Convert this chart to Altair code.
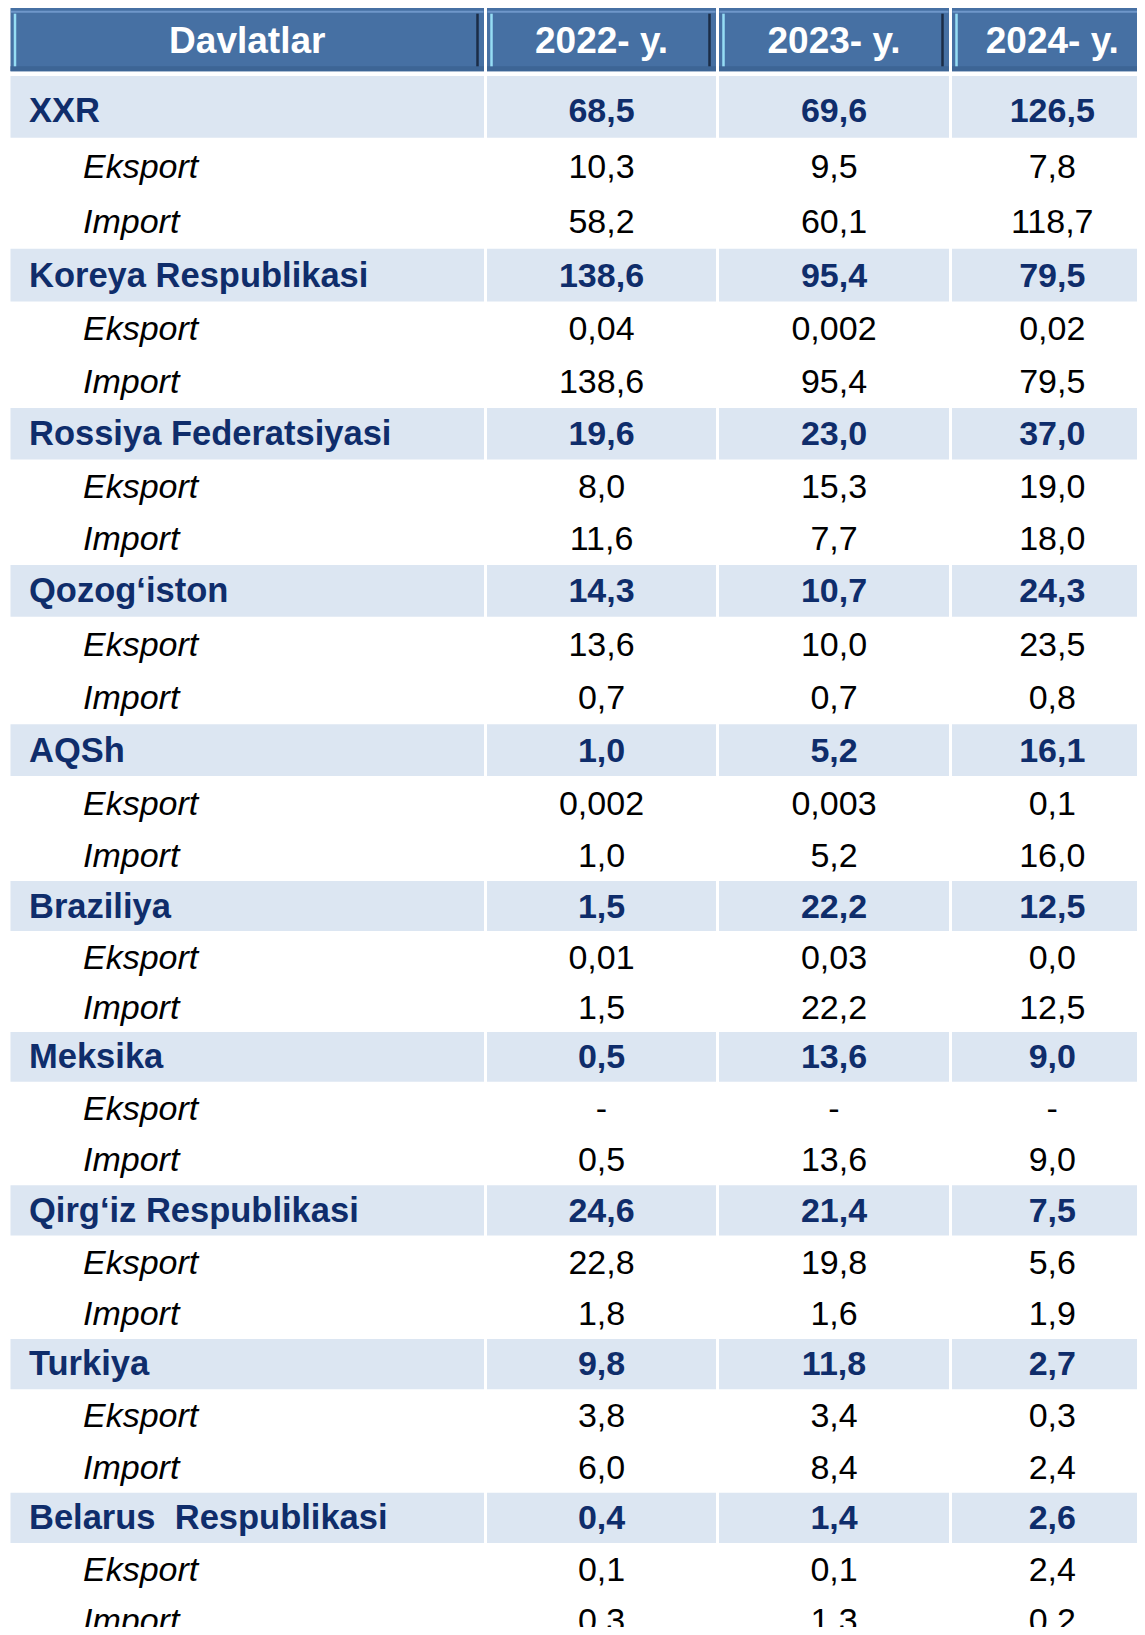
import altair as alt
import pandas as pd

# ---------------- data ----------------
header_label = "Davlatlar"
years = ["2022- y.", "2023- y.", "2024- y."]
countries = [
    "XXR",
    "Koreya Respublikasi",
    "Rossiya Federatsiyasi",
    "Qozog\u2018iston",
    "AQSh",
    "Braziliya",
    "Meksika",
    "Qirg\u2018iz Respublikasi",
    "Turkiya",
    "Belarus\u00a0 Respublikasi",
]
sub_labels = ["Eksport", "Import"]

total_2022 = ["68,5", "138,6", "19,6", "14,3", "1,0", "1,5", "0,5", "24,6", "9,8", "0,4"]
total_2023 = ["69,6", "95,4", "23,0", "10,7", "5,2", "22,2", "13,6", "21,4", "11,8", "1,4"]
total_2024 = ["126,5", "79,5", "37,0", "24,3", "16,1", "12,5", "9,0", "7,5", "2,7", "2,6"]

export_2022 = ["10,3", "0,04", "8,0", "13,6", "0,002", "0,01", "-", "22,8", "3,8", "0,1"]
export_2023 = ["9,5", "0,002", "15,3", "10,0", "0,003", "0,03", "-", "19,8", "3,4", "0,1"]
export_2024 = ["7,8", "0,02", "19,0", "23,5", "0,1", "0,0", "-", "5,6", "0,3", "2,4"]

import_2022 = ["58,2", "138,6", "11,6", "0,7", "1,0", "1,5", "0,5", "1,8", "6,0", "0,3"]
import_2023 = ["60,1", "95,4", "7,7", "0,7", "5,2", "22,2", "13,6", "1,6", "8,4", "1,3"]
import_2024 = ["118,7", "79,5", "18,0", "0,8", "16,0", "12,5", "9,0", "1,9", "2,4", "0,2"]

totals = [total_2022, total_2023, total_2024]
exports = [export_2022, export_2023, export_2024]
imports = [import_2022, import_2023, import_2024]

# ---------------- tables ----------------
header_df = pd.DataFrame({
    "col": [0, 1, 2, 3],
    "text": [header_label] + years,
})
header_df["row"] = -1

country_names, country_vals, sub_names, sub_vals, bands = [], [], [], [], []
for k, c in enumerate(countries):
    r = 3 * k
    country_names.append({"row": r, "col": 0, "text": c})
    for j in range(3):
        country_vals.append({"row": r, "col": j + 1, "text": totals[j][k]})
    for c4 in range(4):
        bands.append({"row": r, "col": c4})
    for s, (lab, arrs) in enumerate(zip(sub_labels, [exports, imports])):
        sub_names.append({"row": r + 1 + s, "col": 0, "text": lab})
        for j in range(3):
            sub_vals.append({"row": r + 1 + s, "col": j + 1, "text": arrs[j][k]})

country_names = pd.DataFrame(country_names)
country_vals = pd.DataFrame(country_vals)
sub_names = pd.DataFrame(sub_names)
sub_vals = pd.DataFrame(sub_vals)
bands = pd.DataFrame(bands)

# ---------------- scales ----------------
W, H = 1129, 1619
xscale = alt.Scale(domain=[0, 1, 2, 3, 4], range=[1, 477.5, 709.5, 942.5, 1146],
                   nice=False, zero=False)
yscale = alt.Scale(domain=[-1, 0, 3, 6, 9, 12, 15, 18, 21, 24, 27, 30],
                   range=[31.5, 103, 267.5, 426, 582.5, 742.5, 898.5, 1048.5,
                          1202.5, 1356, 1510, 1663],
                   nice=False, zero=False)

FONT = "Liberation Sans"
HEAD_BLUE = "#4670A3"
BAND = "#DCE6F2"
NAVY = "#0F2D6B"


def X(field):
    return alt.X(field, type="quantitative", scale=xscale, axis=None)


def Y(field):
    return alt.Y(field, type="quantitative", scale=yscale, axis=None)


# header cells
head_base = alt.Chart(header_df).transform_calculate(
    x1="datum.col", x2="datum.col + 1", xc="datum.col + 0.5",
    y1="datum.row - 0.445", y2="datum.row + 0.445",
)

head_rect = head_base.mark_rect(color=HEAD_BLUE, xOffset=1.5, x2Offset=-1.5, clip=True).encode(
    x=X("x1"), x2="x2", y=Y("y1"), y2="y2"
)
head_bottom = head_base.mark_rect(color="#3D6595", xOffset=1.5, x2Offset=-1.5,
                                  yOffset=-5, clip=True).encode(
    x=X("x1"), x2="x2", y=Y("y2"), y2="y2"
)
head_top = head_base.mark_rule(color="#6F97CA", strokeWidth=2, xOffset=2, x2Offset=-2,
                               yOffset=4, y2Offset=4, clip=True).encode(
    x=X("x1"), x2="x2", y=Y("y1")
)
head_left = head_base.mark_rule(color="#96DDF4", strokeWidth=2.5, xOffset=6, x2Offset=6,
                                yOffset=6, y2Offset=-5, clip=True).encode(
    x=X("x1"), y=Y("y1"), y2="y2"
)
head_right = head_base.mark_rule(color="#1B2C46", strokeWidth=2.5, xOffset=-8,
                                 yOffset=6, y2Offset=-5, clip=True).encode(
    x=X("x2"), y=Y("y1"), y2="y2"
)
head_text = head_base.mark_text(font=FONT, fontSize=37, fontWeight="bold", color="white",
                                align="center", baseline="middle", dy=2, clip=True).encode(
    x=X("xc"), y=Y("row"), text="text:N"
)

# country bands
band_rect = alt.Chart(bands).transform_calculate(
    x1="datum.col", x2="datum.col + 1",
    y1="datum.row - 0.49", y2="datum.row + 0.49",
).mark_rect(color=BAND, xOffset=1.5, x2Offset=-1.5, clip=True).encode(
    x=X("x1"), x2="x2", y=Y("y1"), y2="y2"
)

country_text = alt.Chart(country_names).mark_text(
    font=FONT, fontSize=34.5, fontWeight="bold", color=NAVY, align="left",
    baseline="middle", dx=20, dy=1, clip=True
).encode(x=X("col"), y=Y("row"), text="text:N")

country_val_text = alt.Chart(country_vals).transform_calculate(
    xc="datum.col + 0.5"
).mark_text(
    font=FONT, fontSize=34, fontWeight="bold", color=NAVY, align="center",
    baseline="middle", dy=1, clip=True
).encode(x=X("xc"), y=Y("row"), text="text:N")

sub_text = alt.Chart(sub_names).mark_text(
    font=FONT, fontSize=34, fontStyle="italic", color="black", align="left",
    baseline="middle", dx=74, dy=2, clip=True
).encode(x=X("col"), y=Y("row"), text="text:N")

sub_val_text = alt.Chart(sub_vals).transform_calculate(
    xc="datum.col + 0.5"
).mark_text(
    font=FONT, fontSize=34, color="black", align="center",
    baseline="middle", dy=2, clip=True
).encode(x=X("xc"), y=Y("row"), text="text:N")

chart = alt.layer(
    head_rect, head_bottom, head_top, head_left, head_right, head_text,
    band_rect, country_text, country_val_text, sub_text, sub_val_text,
).properties(
    width=W, height=H, padding=0, background="white",
    autosize=alt.AutoSizeParams(type="none"),
).configure_view(stroke=None)

chart.save("out.html", embed_options={"renderer": "svg", "actions": False})
